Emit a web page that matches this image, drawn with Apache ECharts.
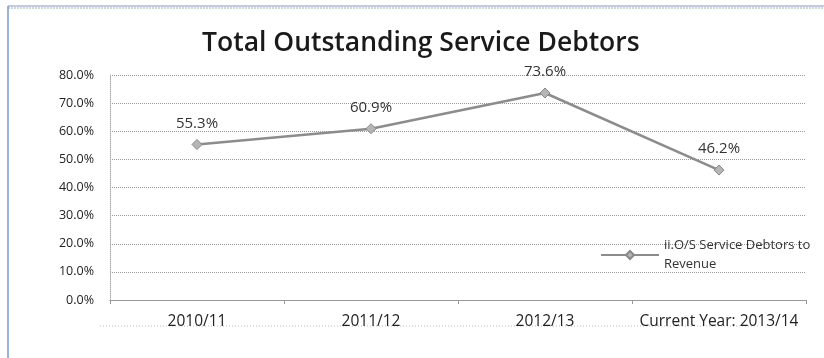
<!DOCTYPE html>
<html>
<head>
<meta charset="utf-8">
<script src="https://cdn.jsdelivr.net/npm/echarts@6/dist/echarts.min.js"></script>
<style>
  html, body { margin: 0; padding: 0; background: #fff; }
  #chart { width: 824px; height: 358px; }
</style>
</head>
<body>
<div id="chart"></div>
<script>
// Outstanding service debtors as a share of revenue, by financial year
const categories = ['2010/11', '2011/12', '2012/13', 'Current Year: 2013/14'];
const debtorsToRevenue = [55.3, 60.9, 73.6, 46.2];
const seriesName = 'ii.O/S Service Debtors to\nRevenue';
const yTicks = { min: 0, max: 80, interval: 10 };

const chart = echarts.init(document.getElementById('chart'), null, { renderer: 'canvas' });
const font = '"Open Sans", Lato, sans-serif';

chart.setOption({
  backgroundColor: '#fff',
  animation: false,
  title: {
    text: 'Total Outstanding Service Debtors',
    left: 197,
    top: 25,
    textStyle: { fontFamily: font, fontSize: 26.5, fontWeight: 600, color: '#1a1a1a' }
  },
  grid: { left: 110, right: 18, top: 75, bottom: 58 },
  legend: {
    left: 595,
    top: 231,
    orient: 'vertical',
    itemWidth: 58,
    itemHeight: 10,
    data: [seriesName],
    textStyle: { fontFamily: font, fontSize: 13, color: '#333', lineHeight: 19 }
  },
  xAxis: {
    type: 'category',
    data: categories,
    boundaryGap: true,
    axisLine: { lineStyle: { color: '#999', width: 1 } },
    axisTick: { show: true, interval: 0, length: 4, lineStyle: { color: '#999' } },
    axisLabel: { interval: 0, hideOverlap: false, fontFamily: font, fontSize: 15.5, color: '#222', margin: 14 }
  },
  yAxis: {
    type: 'value',
    min: yTicks.min,
    max: yTicks.max,
    interval: yTicks.interval,
    axisLine: { show: true, lineStyle: { color: '#aaa', type: 'dotted' } },
    axisTick: { show: false },
    splitLine: { lineStyle: { color: '#999', type: 'dotted', width: 1 } },
    axisLabel: {
      fontFamily: font, fontSize: 12.5, color: '#222', margin: 16,
      formatter: v => v.toFixed(1) + '%'
    }
  },
  series: [{
    name: seriesName,
    type: 'line',
    data: debtorsToRevenue,
    symbol: 'diamond',
    symbolSize: 10,
    lineStyle: { color: '#8c8c8c', width: 2.5 },
    itemStyle: { color: '#b5b5b5', borderColor: '#888', borderWidth: 1 },
    label: {
      show: true,
      position: 'top',
      distance: 8,
      fontFamily: font,
      fontSize: 15,
      color: '#333',
      formatter: p => p.value.toFixed(1) + '%'
    }
  }],
  graphic: [
    // chart frame edges
    { type: 'line', shape: { x1: 8, y1: 6, x2: 824, y2: 6 }, style: { stroke: '#7a9cc8', lineWidth: 1 } },
    { type: 'line', shape: { x1: 8, y1: 8, x2: 824, y2: 8 }, style: { stroke: '#aaa', lineWidth: 1, lineDash: [2, 1] } },
    { type: 'line', shape: { x1: 8, y1: 6, x2: 8, y2: 358 }, style: { stroke: '#7a9cc8', lineWidth: 1.5 } },
    // faint rule beneath the chart
    { type: 'line', shape: { x1: 100, y1: 326, x2: 760, y2: 326 }, style: { stroke: '#bbb', lineWidth: 1, lineDash: [1, 2] } }
  ]
});
</script>
</body>
</html>
